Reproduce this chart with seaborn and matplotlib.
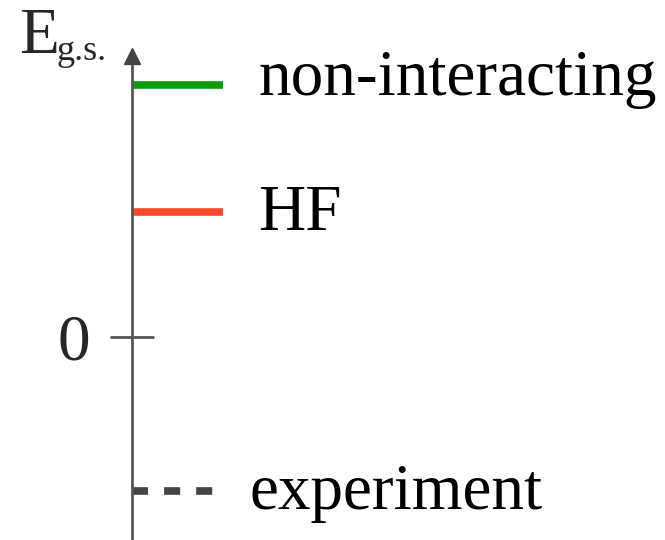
import matplotlib
matplotlib.use("Agg")
import matplotlib.pyplot as plt
import pandas as pd
import seaborn as sns

# Ground-state energy levels (schematic units, 0 = reference)
levels = ["non-interacting", "HF", "experiment"]
energies = [2.02, 1.0, -1.23]
colors = ["#0a9e0a", "#fb4a2a", "#444444"]
dashed = [False, False, True]
ytick_values = [0]
ytick_labels = ["0"]

sns.set_theme(style="white")
plt.rcParams["font.family"] = ["Liberation Serif", "DejaVu Serif"]

W, H = 665, 540
fig = plt.figure(figsize=(W / 100, H / 100), dpi=100)

# axes: left edge is the energy axis, x measured in pixels from it
ax_left, ax_top = 132, 56
ax = fig.add_axes([ax_left / W, 0, 1 - ax_left / W, 1 - ax_top / H])
ax.set_xlim(0, W - ax_left)
ax.set_ylim(-(H - 337) / 125, (337 - ax_top) / 125)

FS = 47
seg_len = [91, 91, 81]
for name, e, c, d, L in zip(levels, energies, colors, dashed, seg_len):
    df = pd.DataFrame({"x": [0, L], "E": [e, e]})
    sns.lineplot(data=df, x="x", y="E", color=c, lw=5.5, ax=ax,
                 solid_capstyle="butt")
    ln = ax.lines[-1]
    if d:
        ln.set_dashes([2.1, 2.1])
        ln.set_dash_capstyle("butt")
    tx = 118 if d else 126
    dy = 0.04 if name == "non-interacting" else -0.02
    ax.text(tx, e + dy, name, fontsize=FS, va="center", ha="left", color="black")

for s in ["top", "right", "bottom"]:
    ax.spines[s].set_visible(False)
ax.spines["left"].set_color("#555555")
ax.spines["left"].set_linewidth(2.0)
ax.set_xticks([])
ax.set_yticks(ytick_values)
ax.set_yticklabels(ytick_labels, fontsize=FS)
ax.tick_params(axis="y", direction="inout", length=31.7, width=2.0,
               color="#555555", pad=14, left=True)
ax.set_xlabel("")
ax.set_ylabel("")

# arrow head on top of the axis
ax.plot([0], [1], marker="^", markersize=11, color="#444444",
        transform=ax.transAxes, clip_on=False, zorder=5)

# axis title E_g.s.
fig.text(19 / W, 1 - 53 / H, "E", fontsize=FS, va="baseline", ha="left")
fig.text(57 / W, 1 - 60 / H, "g.s.", fontsize=26, va="baseline", ha="left")

fig.savefig("out.png", dpi=100)
